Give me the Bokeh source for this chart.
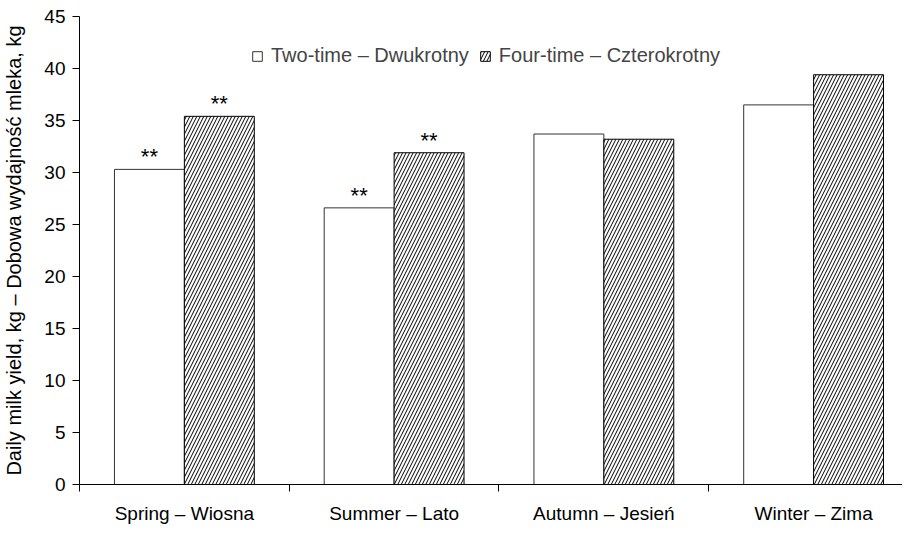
import numpy as np
from bokeh.plotting import figure
from bokeh.models import ColumnDataSource, Range1d, FixedTicker, Legend, LegendItem
from bokeh.embed import file_html
from bokeh.resources import INLINE
from bokeh.core.properties import value

# ---- data ----
seasons = ["Spring – Wiosna", "Summer – Lato", "Autumn – Jesień", "Winter – Zima"]
two_time = [30.3, 26.6, 33.7, 36.5]
four_time = [35.4, 31.9, 33.2, 39.4]
two_time_sig = ["**", "**", "", ""]
four_time_sig = ["**", "**", "", ""]
y_ticks = [0, 5, 10, 15, 20, 25, 30, 35, 40, 45]
legend_labels = ["Two-time – Dwukrotny", "Four-time – Czterokrotny"]
y_title = "Daily milk yield, kg – Dobowa wydajność mleka, kg"

FONT = "Liberation Sans"

centers = np.arange(len(seasons)) + 0.5
bar_w = 1.0 / 3.0

src_two = ColumnDataSource(dict(x=centers - bar_w / 2, top=two_time, sig=two_time_sig))
src_four = ColumnDataSource(dict(x=centers + bar_w / 2, top=four_time, sig=four_time_sig))

p = figure(width=902, height=526, output_backend="svg", toolbar_location=None,
           x_range=Range1d(0, 824 / 210), y_range=Range1d(0, 45),
           min_border_left=78, min_border_right=0, min_border_top=16, min_border_bottom=39)
p.outline_line_color = None
p.xgrid.visible = False
p.ygrid.visible = False
p.background_fill_color = "white"

r1 = p.vbar(x="x", top="top", width=bar_w, bottom=0, source=src_two,
            fill_color="white", line_color="#333333", line_width=1)
r2 = p.vbar(x="x", top="top", width=bar_w, bottom=0, source=src_four,
            fill_color="white", line_color="black", line_width=1,
            hatch_pattern="/", hatch_color="black", hatch_scale=7, hatch_weight=1)

for src in (src_two, src_four):
    p.text(x="x", y="top", text="sig", source=src, text_align="center",
           text_baseline="bottom", text_font=value(FONT), text_font_size="22px",
           text_color="black", y_offset=0)

# y axis
ya = p.yaxis[0]
ya.ticker = FixedTicker(ticks=y_ticks)
ya.major_tick_out = 7
ya.major_tick_in = 0
ya.minor_tick_out = 0
ya.minor_tick_in = 0
ya.axis_line_color = "black"
ya.major_tick_line_color = "black"
ya.major_label_text_font = FONT
ya.major_label_text_font_size = "19px"
ya.major_label_text_color = "black"
ya.major_label_standoff = 7
ya.axis_label = y_title
ya.axis_label_text_font = FONT
ya.axis_label_text_font_size = "20px"
ya.axis_label_text_font_style = "normal"
ya.axis_label_text_color = "black"
ya.axis_label_standoff = 16

# x axis
xa = p.xaxis[0]
xa.ticker = FixedTicker(ticks=list(centers), minor_ticks=list(range(len(seasons) + 1)))
xa.major_label_overrides = {float(c): s for c, s in zip(centers, seasons)}
xa.major_tick_out = 0
xa.major_tick_in = 0
xa.minor_tick_out = 7
xa.minor_tick_in = 0
xa.minor_tick_line_color = "black"
xa.axis_line_color = "black"
xa.major_label_text_font = FONT
xa.major_label_text_font_size = "19px"
xa.major_label_text_color = "black"
xa.major_label_standoff = 11

legend = Legend(items=[LegendItem(label=legend_labels[0], renderers=[r1]),
                       LegendItem(label=legend_labels[1], renderers=[r2])],
                orientation="horizontal", location=(172, 417),
                border_line_color=None, background_fill_alpha=0,
                glyph_width=12, glyph_height=12, label_standoff=8, spacing=10,
                padding=0, margin=0,
                label_text_font=FONT, label_text_font_size="20px")
p.add_layout(legend)

open("out.html", "w").write(file_html(p, INLINE))
